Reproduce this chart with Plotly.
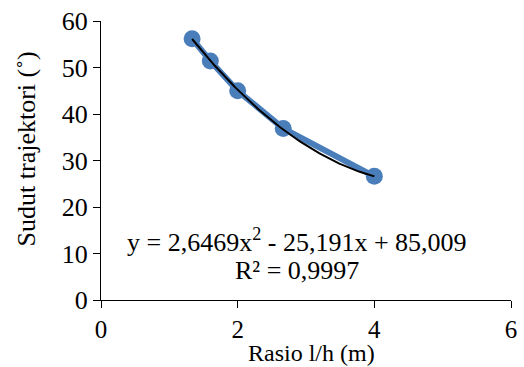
import numpy as np
import plotly.graph_objects as go

# Data
rasio = [1.333, 1.6, 2.0, 2.667, 4.0]
sudut = [56.2, 51.4, 45.0, 36.9, 26.6]
coef = [2.6469, -25.191, 85.009]  # quadratic trendline coefficients
r2_text = "0,9997"
x_ticks = [0, 2, 4, 6]
y_ticks = [0, 10, 20, 30, 40, 50, 60]

FONT = "Liberation Serif"
BLUE = "#4A7EBB"
FS = 26

xt = np.linspace(min(rasio), max(rasio), 100)
yt = np.polyval(coef, xt)

fig = go.Figure()
fig.add_trace(go.Scatter(
    x=rasio, y=sudut, mode="lines+markers",
    line=dict(color=BLUE, width=6),
    marker=dict(color=BLUE, size=17),
    showlegend=False,
))
fig.add_trace(go.Scatter(
    x=xt, y=yt, mode="lines",
    line=dict(color="black", width=2),
    showlegend=False,
))

fig.update_layout(
    width=524, height=367,
    margin=dict(l=101, r=7, t=21, b=67),
    paper_bgcolor="white", plot_bgcolor="white",
    font=dict(family=FONT, size=FS, color="black"),
    xaxis=dict(
        range=[0, 6], tickvals=x_ticks, showgrid=False, zeroline=False,
        showline=True, linecolor="black", linewidth=1.3,
        ticks="outside", ticklen=7, tickcolor="black", tickwidth=1.3,
        tickfont=dict(family=FONT, size=25, color="black"),
    ),
    yaxis=dict(
        range=[0, 60], tickvals=y_ticks, showgrid=False, zeroline=False,
        showline=True, linecolor="black", linewidth=1.3,
        ticks="outside", ticklen=7, tickcolor="black", tickwidth=1.3,
        tickfont=dict(family=FONT, size=FS, color="black"),
    ),
    annotations=[
        dict(text="y = 2,6469x<sup>2</sup> - 25,191x + 85,009",
             xref="paper", yref="paper", x=(300-101)/416, y=(299.7-240)/279,
             xanchor="center", yanchor="middle", showarrow=False,
             font=dict(family=FONT, size=FS)),
        dict(text="R² = " + r2_text,
             xref="paper", yref="paper", x=(300-101)/416, y=(299.7-270)/279,
             xanchor="center", yanchor="middle", showarrow=False,
             font=dict(family=FONT, size=FS)),
        dict(text="Rasio l/h (m)",
             xref="paper", yref="paper", x=(315-101)/416, y=(299.7-352.5)/279,
             xanchor="center", yanchor="middle", showarrow=False,
             font=dict(family=FONT, size=24)),
        dict(text="Sudut trajektori (˚)", textangle=-90,
             xref="paper", yref="paper", x=(25-101)/416, y=(299.7-149)/279,
             xanchor="center", yanchor="middle", showarrow=False,
             font=dict(family=FONT, size=FS)),
    ],
)

fig.write_html("out.html")
